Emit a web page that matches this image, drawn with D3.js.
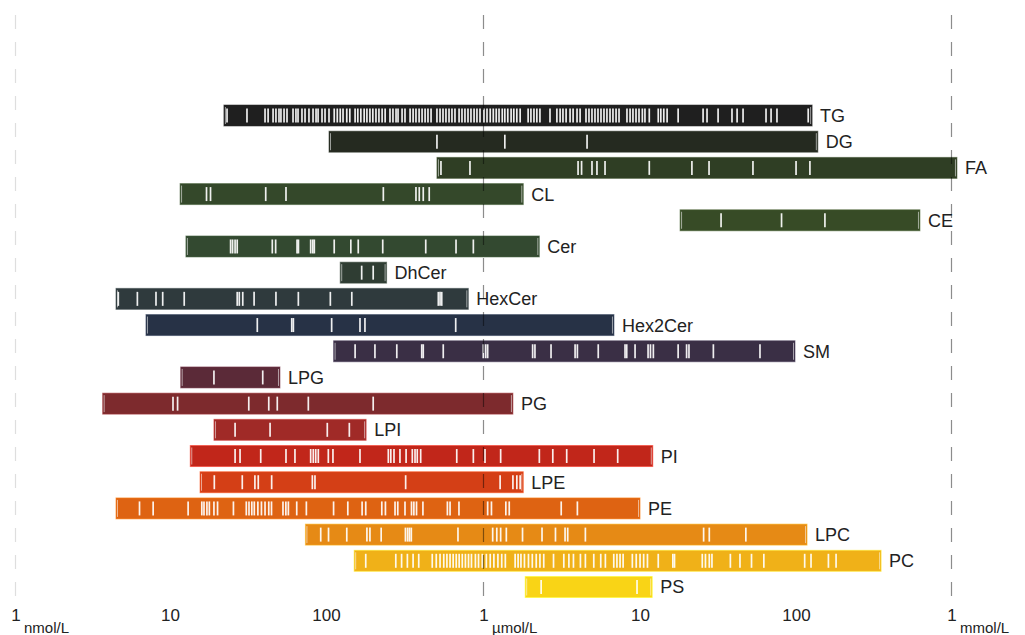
<!DOCTYPE html>
<html><head><meta charset="utf-8">
<script src="https://cdn.jsdelivr.net/npm/d3@7"></script>
<style>
html,body{margin:0;padding:0;background:#fff;}
svg{display:block;}
text{font-family:"Liberation Sans",Arial,sans-serif;}
</style></head>
<body>
<svg id="chart" width="1025" height="635"></svg>
<script>
// ---- data (concentrations in nmol/L) ----
const categories = ["TG","DG","FA","CL","CE","Cer","DhCer","HexCer","Hex2Cer","SM","LPG","PG","LPI","PI","LPE","PE","LPC","PC","PS"];
const colors = ["#1f1f1f","#252a20","#2f3e24","#34482a","#374b26","#334930","#2f3d33","#2f3a3d","#273246","#3a2f45","#5b2a38","#7d2a2d","#a02a27","#c1261a","#d43f16","#de6312","#e68a15","#f0b118","#f9d416"];
const rangeMin = [21.2,100,492,11.1,17800,12.1,118,4.31,6.71,107,11.2,3.54,18.3,12.9,14.9,4.31,70.6,145,1810];
const rangeMax = [125000,136000,1060000,1760,614000,2230,234,782,6710,97100,48.5,1510,173,11900,1760,9860,116000,346000,11800];

const tgSpecies = [22.2,29.8,38.9,40.7,43.8,45.7,47.8,49.2,51.5,53.8,58.8,61.4,63.3,67.1,70.2,74.4,79.0,82.6,85.1,90.2,94.3,100,108,113,118,123,130,136,147,153,160,168,175,183,191,200,209,219,229,246,257,269,277,294,307,331,346,361,378,395,413,431,451,492,515,538,562,588,614,642,682,712,744,778,813,851,888,929,985,1030,1080,1130,1180,1230,1290,1340,1400,1470,1530,1600,1680,1890,1970,2060,2150,2250,2610,2890,3030,3160,3310,3510,3670,3890,4070,4440,4640,4850,5070,5300,5540,5790,6050,6330,6610,6920,7230,8130,8510,8880,9290,9710,10200,10600,11300,12900,13400,14000,14700,17300,25000,26500,31200,38300,41300,45100,63300,68200,74400,118000];
const dgSpecies = [492,1340,4510];
const faSpecies = [522,801,3950,4160,4850,5220,5880,11300,21200,27300,52200,98600,121000];
const clSpecies = [16.4,17.4,39.3,53.0,223,361,379,402,439];
const ceSpecies = [32600,79600,151000];
const cerSpecies = [23.4,24.1,25.0,25.8,43.3,45.5,62.4,63.7,76.3,78.7,80.5,108,138,154,221,417,652,842];
const dhcerSpecies = [162,192];
const hexcerSpecies = [4.46,5.91,7.78,8.59,11.8,25.8,26.6,28.0,33.1,45.7,63.6,102,140,502,515,528];
const hex2cerSpecies = [34.7,57.7,59.1,104,158,170,649];
const smSpecies = [147,197,272,393,402,540,975,1010,1040,2020,2090,2650,3780,3910,5320,7900,8100,9160,11100,11500,12000,17300,19600,20300,29100,57900];
const lpgSpecies = [18.3,37.6];
const pgSpecies = [10.0,10.7,30.6,41.1,46.6,73.7,192];
const lpiSpecies = [25.0,41.9,97.5,135];
const piSpecies = [25.0,26.9,36.5,53.0,60.5,76.3,79.3,82.2,85.4,99.0,106,158,240,249,261,285,312,342,356,368,387,659,842,1000,1260,2230,2720,3340,5000,7090];
const lpeSpecies = [18.4,27.8,33.5,35.2,42.9,78.2,81.3,310,1250,1510,1600,1680];
const peSpecies = [6.10,7.46,12.5,15.3,15.8,16.5,17.1,18.3,19.3,24.4,29.5,30.7,32.0,33.2,35.0,36.9,38.9,41.1,42.8,50.7,52.9,54.9,62.1,71.6,107,132,163,172,218,230,265,276,307,338,350,364,400,574,597,681,1040,1100,1360,1430,3080,3910];
const lpcSpecies = [88.5,99.3,130,175,183,216,309,319,328,337,671,1120,1190,1260,1370,1740,2320,2830,3260,3390,4400,25200,27400,47000];
const pcSpecies = [172,268,292,318,346,376,459,487,515,544,570,597,625,654,683,715,749,784,819,868,909,961,1020,1080,1140,1210,1280,1350,1560,1630,1700,1790,1900,2010,2130,2250,2380,2750,3200,3450,3690,4090,4400,4980,5520,5910,6690,7010,7340,7680,8800,9320,9860,10400,11000,12900,16000,16400,24700,25900,27400,28500,37400,43100,51100,61300,112000,123000,159000,178000];
const psSpecies = [2290,9430];

const tickValues = [1,10,100,1000,10000,100000,1000000];
const tickLabels = ["1","10","100","1","10","100","1"];
const unitLabels = ["nmol/L","µmol/L","mmol/L"];
const unitValues = [1,1000,1000000];

const speciesLists = [tgSpecies,dgSpecies,faSpecies,clSpecies,ceSpecies,cerSpecies,dhcerSpecies,hexcerSpecies,hex2cerSpecies,smSpecies,lpgSpecies,pgSpecies,lpiSpecies,piSpecies,lpeSpecies,peSpecies,lpcSpecies,pcSpecies,psSpecies];

const rows = categories.map((c,i)=>({name:c,color:colors[i],min:rangeMin[i],max:rangeMax[i],species:speciesLists[i]}));

// ---- layout ----
const svg = d3.select("#chart");
const x = d3.scaleLog().domain([1,1e6]).range([17,953]);
const y = d3.scalePoint().domain(categories).range([115.5,587]);
const barH = 21, tickH = 14;
const axisY = 601;

const defs = svg.append("defs");
const grad = defs.append("linearGradient").attr("id","axisGrad").attr("x1","0%").attr("x2","100%");
grad.append("stop").attr("offset","0%").attr("stop-color","#d0d0d0");
grad.append("stop").attr("offset","45%").attr("stop-color","#9a9a9a");
grad.append("stop").attr("offset","100%").attr("stop-color","#555");

const g = svg.append("g");
const rowG = g.selectAll("g.row").data(rows).join("g").attr("class","row");
rowG.append("rect")
  .attr("x",d=>x(d.min))
  .attr("y",d=>y(d.name)-barH/2)
  .attr("width",d=>x(d.max)-x(d.min))
  .attr("height",barH)
  .attr("fill",d=>d.color)
  .attr("stroke",d=>d3.color(d.color).brighter(0.8))
  .attr("stroke-opacity",0.55)
  .attr("stroke-width",1);

rowG.selectAll("line.end").data(d=>[{v:d.min,n:d.name,o:1.5},{v:d.max,n:d.name,o:-1.5}]).join("line")
  .attr("class","end")
  .attr("x1",e=>x(e.v)+e.o).attr("x2",e=>x(e.v)+e.o)
  .attr("y1",e=>y(e.n)-barH/2+2).attr("y2",e=>y(e.n)+barH/2-2)
  .attr("stroke","#fff").attr("stroke-opacity",0.55).attr("stroke-width",1);

rowG.selectAll("line.sp").data(d=>d.species.map(v=>({v,n:d.name}))).join("line")
  .attr("class","sp")
  .attr("x1",e=>x(e.v)).attr("x2",e=>x(e.v))
  .attr("y1",e=>y(e.n)-tickH/2).attr("y2",e=>y(e.n)+tickH/2)
  .attr("stroke","#fff").attr("stroke-opacity",0.92).attr("stroke-width",1.7);

rowG.append("text")
  .attr("x",d=>x(d.max)+8)
  .attr("y",d=>y(d.name))
  .attr("dy","0.36em")
  .attr("font-size",18)
  .attr("fill","#222")
  .text(d=>d.name);

svg.selectAll("line.ref").data(unitValues).join("line")
  .attr("class","ref")
  .attr("x1",d=>x(d)-1.5).attr("x2",d=>x(d)-1.5)
  .attr("y1",15).attr("y2",axisY)
  .attr("stroke","#000")
  .attr("stroke-opacity",(d,i)=>i===0?0.13:0.45)
  .attr("stroke-width",1.2)
  .attr("stroke-dasharray","14,13");

svg.append("line").attr("x1",14).attr("x2",1025).attr("y1",axisY).attr("y2",axisY)
  .attr("stroke","url(#axisGrad)").attr("stroke-width",2);

const axis = d3.axisBottom(x).tickValues(tickValues).tickFormat((d,i)=>tickLabels[i]).tickSize(0).tickPadding(8);
const axG = svg.append("g").attr("transform",`translate(0,${axisY})`).call(axis);
axG.select(".domain").remove();
axG.selectAll("text").attr("font-size",17).attr("fill","#222").attr("dx",(d,i)=>(i===1||i===2)?-3:(i===0||i===3||i===6?-1.5:-1)).style("font-family","'Liberation Sans',Arial,sans-serif");

svg.selectAll("text.unit").data(unitLabels).join("text")
  .attr("class","unit")
  .attr("x",(d,i)=>x(unitValues[i])+7)
  .attr("y",633)
  .attr("font-size",15)
  .attr("fill","#222")
  .text(d=>d);
</script>
</body></html>
